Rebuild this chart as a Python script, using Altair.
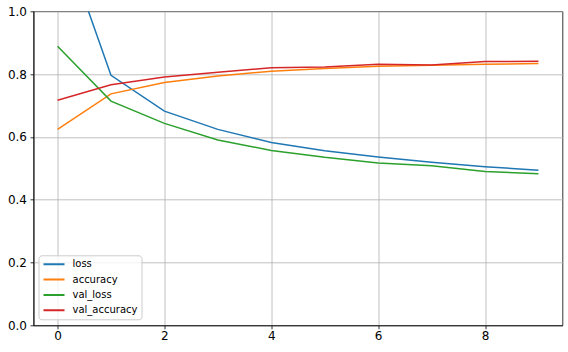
import altair as alt
import pandas as pd

epochs = [0, 1, 2, 3, 4, 5, 6, 7, 8, 9]
loss = [1.28, 0.796, 0.682, 0.624, 0.582, 0.556, 0.536, 0.519, 0.505, 0.494]
accuracy = [0.624, 0.737, 0.773, 0.794, 0.809, 0.818, 0.825, 0.828, 0.831, 0.834]
val_loss = [0.889, 0.714, 0.643, 0.590, 0.557, 0.535, 0.517, 0.508, 0.490, 0.483]
val_accuracy = [0.717, 0.766, 0.791, 0.806, 0.820, 0.823, 0.831, 0.829, 0.840, 0.841]

series_names = ["loss", "accuracy", "val_loss", "val_accuracy"]
series_colors = ["#1f77b4", "#ff7f0e", "#2ca02c", "#d62728"]
x_ticks = [0, 2, 4, 6, 8]
y_ticks = [0.0, 0.2, 0.4, 0.6, 0.8, 1.0]

wide = pd.DataFrame({"epoch": epochs, "loss": loss, "accuracy": accuracy,
                     "val_loss": val_loss, "val_accuracy": val_accuracy})
df = wide.melt(id_vars="epoch", var_name="series", value_name="value")

FONT = "DejaVu Sans"

chart = alt.Chart(df).mark_line(clip=True, strokeWidth=1.5).encode(
    x=alt.X("epoch:Q",
            scale=alt.Scale(domain=[-0.45, 9.45], nice=False, zero=False),
            axis=alt.Axis(values=x_ticks, title=None, format="d",
                          labelPadding=2, tickSize=3.5)),
    y=alt.Y("value:Q",
            scale=alt.Scale(domain=[0, 1], nice=False),
            axis=alt.Axis(values=y_ticks, title=None, format=".1f",
                          labelPadding=3.5, tickSize=3.5)),
    color=alt.Color("series:N",
                    scale=alt.Scale(domain=series_names, range=series_colors),
                    legend=alt.Legend(
                        title=None, orient="none", legendX=5, legendY=244,
                        symbolType="stroke", symbolSize=441, symbolStrokeWidth=2,
                        labelFontSize=10, labelFont=FONT, labelColor="black",
                        labelOffset=7, rowPadding=5.3, padding=4, clipHeight=10,
                        strokeColor="#cccccc", fillColor="rgba(255,255,255,0.8)",
                        cornerRadius=3)),
    detail="series:N",
).properties(
    width=529, height=314,
    background="white",
    autosize=alt.AutoSizeParams(type="none"),
    padding={"left": 33.5, "top": 11.3, "right": 5.5, "bottom": 26.7},
).configure_axis(
    grid=True, gridColor="#b0b0b0", gridWidth=0.8,
    domainColor="black", domainWidth=0.8,
    tickColor="black", tickWidth=0.8,
    labelFont=FONT, labelFontSize=12, labelColor="black",
).configure_view(
    stroke="black", strokeWidth=0.8,
)

chart.save("out.html", embed_options={"renderer": "svg", "actions": False})
